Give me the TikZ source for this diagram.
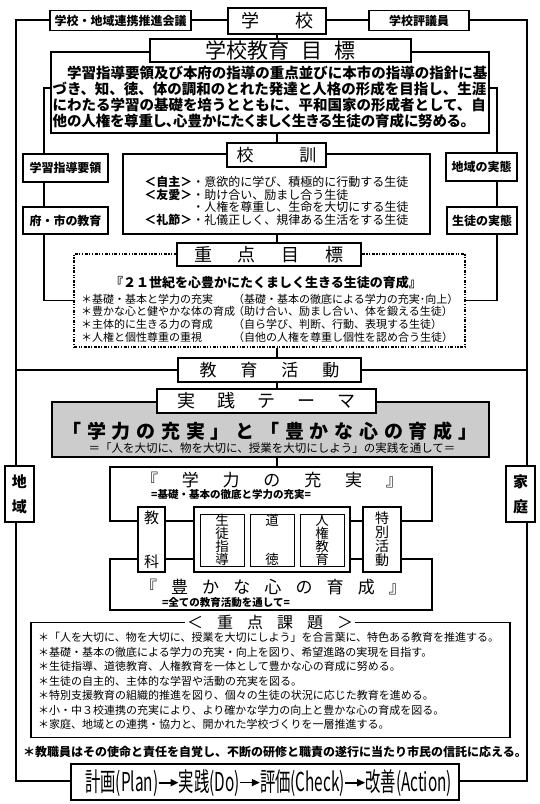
\documentclass[tikz,border=0pt]{standalone}
\usepackage{fontspec}
\setmainfont{Noto Sans CJK JP}
\newfontfamily\pdcafont[FakeStretch=0.59]{Noto Sans CJK JP}
\usetikzlibrary{arrows.meta,positioning,backgrounds}

\newcommand\fsz[1]{\fontsize{#1}{#1}\selectfont}
\newcommand\spread[2]{\makebox[#1][s]{#2}}
\newcommand\narrow{\addfontfeature{RawFeature=+palt}}

\tikzset{
  box/.style={draw, line width=1.3pt, fill=white, inner sep=0pt},
  heavybox/.style={draw, line width=2.4pt, fill=white, inner sep=0pt},
  dashbox/.style={draw, line width=1.8pt, fill=white, inner sep=0pt,
    dash pattern=on 3pt off 1.5pt on 1.2pt off 1.5pt on 1.2pt off 1.5pt},
  frame/.style={line width=2.2pt},
  link/.style={line width=1.2pt},
  spine/.style={line width=2pt},
  pdca step/.style={inner sep=0pt, font=\pdcafont\fsz{26}},
  pdca arrow/.style={line width=1.8pt, -{Triangle[length=8pt,width=7pt]}}
}

\begin{document}
\begin{tikzpicture}[x=1pt, y=-1pt]
  \useasboundingbox (0,0) rectangle (540,804);

  %--- Top row ---
  \node[box, minimum width=141pt, minimum height=20pt, font=\fsz{12}\bfseries] (council) at (120.5,20.5) {学校・地域連携推進会議};
  \node[heavybox, minimum width=98pt, minimum height=26pt, font=\fsz{18}] (school) at (277,21) {\spread{72pt}{学 校}};
  \node[box, minimum width=100pt, minimum height=20pt, font=\fsz{12}\bfseries] (board) at (419,20.5) {学校評議員};

  %--- School goal ---
  \node[box, minimum width=438pt, minimum height=81pt] (goaltext) at (270,92.5) {};
  \node[align=left, inner sep=0pt, font=\fontsize{14.5}{16}\selectfont\bfseries] (goallines) at (270,97) {%
    　学習指導要領及び本府の指導の重点並びに本市の指導の指針に基\\
    づき、知、徳、体の調和のとれた発達と人格の形成を目指し、生涯\\
    にわたる学習の基礎を培うとともに、平和国家の形成者として、自\\
    {\narrow 他の人権を尊重し、心豊かにたくましく生きる生徒の育成に努める。}};
  \node[heavybox, minimum width=261pt, minimum height=23pt, font=\fsz{21}] (goaltitle) at (280.5,50.5) {\spread{150pt}{学校教育 目 標}};

  %--- Side boxes ---
  \node[box, minimum width=85pt, minimum height=28pt, font=\fsz{12}\bfseries] (guideline) at (65.5,168) {学習指導要領};
  \node[box, minimum width=85pt, minimum height=27pt, font=\fsz{12}\bfseries] (cityedu) at (65.5,220.5) {府・市の教育};
  \node[box, minimum width=71pt, minimum height=28pt, font=\fsz{12}\bfseries] (localstate) at (481.5,167) {地域の実態};
  \node[box, minimum width=70pt, minimum height=27pt, font=\fsz{12}\bfseries] (pupilstate) at (482,220.5) {生徒の実態};

  %--- Motto ---
  \node[box, minimum width=307pt, minimum height=80pt] (motto) at (276.5,194) {};
  \node[align=left, inner sep=0pt, font=\fontsize{12}{12.7}\selectfont] (mottolines) at (276.5,201) {%
    {\bfseries ＜自主＞}・意欲的に学び、積極的に行動する生徒\\
    {\bfseries ＜友愛＞}・助け合い、励まし合う生徒\\
    \phantom{\bfseries ＜礼節＞}・人権を尊重し、生命を大切にする生徒\\
    {\bfseries ＜礼節＞}・礼儀正しく、規律ある生活をする生徒};
  \node[heavybox, minimum width=99pt, minimum height=24pt, font=\fsz{17}] (mottotitle) at (276.5,155) {\spread{80pt}{校 訓}};

  %--- Focus goals ---
  \node[dashbox, minimum width=391pt, minimum height=93pt] (focus) at (269.5,300.5) {};
  \node[inner sep=0pt, font=\fsz{13}\bfseries] (slogan) at (266,283) {『２１世紀を心豊かにたくましく生きる生徒の育成』};
  \node[anchor=west, align=left, inner sep=0pt, font=\fontsize{11}{12.7}\selectfont] (focusleft) at (81,318) {%
    ＊基礎・基本と学力の充実\\
    ＊豊かな心と健やかな体の育成\\
    ＊主体的に生きる力の育成\\
    ＊人権と個性尊重の重視};
  \node[anchor=west, align=left, inner sep=0pt, font=\fontsize{11}{12.7}\selectfont] (focusright) at (233,318) {%
    （基礎・基本の徹底による学力の充実･向上）\\
    （助け合い、励まし合い、体を鍛える生徒）\\
    （自ら学び、判断、行動、表現する生徒）\\
    （自他の人権を尊重し個性を認め合う生徒）};
  \node[heavybox, minimum width=184pt, minimum height=23pt, font=\fsz{18}] (focustitle) at (269,254.5) {\spread{150pt}{重 点 目 標}};

  %--- Activities and theme ---
  \node[heavybox, minimum width=183pt, minimum height=24pt, font=\fsz{17}] (activity) at (269.5,370) {\spread{140pt}{教 育 活 動}};
  \node[box, fill=gray!40, minimum width=437pt, minimum height=55pt] (theme) at (270.5,429.5) {};
  \node[inner sep=0pt, font=\fsz{19}\bfseries] (thememain) at (270,431) {\spread{415pt}{「 学 力 の 充 実 」 と 「 豊 か な 心 の 育 成 」}};
  \node[inner sep=0pt, font=\fsz{11.5}] (themesub) at (272,448) {＝「人を大切に、物を大切に、授業を大切にしよう」の実践を通して＝};
  \node[heavybox, minimum width=219pt, minimum height=24pt, font=\fsz{18}] (themetitle) at (266.5,401) {\spread{178pt}{実 践 テ ー マ}};

  %--- Ability and heart ---
  \node[heavybox, minimum width=322pt, minimum height=54pt] (ability) at (271,494) {};
  \node[inner sep=0pt, font=\fsz{17}] (abilitytitle) at (272,480) {\spread{262pt}{『 学 力 の 充 実 』}};
  \node[inner sep=0pt, font=\fsz{10.5}\bfseries] (abilitysub) at (231,495) {=基礎・基本の徹底と学力の充実=};
  \node[heavybox, minimum width=322pt, minimum height=51pt] (heart) at (271,584.5) {};
  \node[inner sep=0pt, font=\fsz{17}] (hearttitle) at (273,587) {\spread{266pt}{『 豊 か な 心 の 育 成 』}};
  \node[inner sep=0pt, font=\fsz{10.5}\bfseries] (heartsub) at (226,603) {=全ての教育活動を通して=};

  % middle row
  \node[heavybox, minimum width=27pt, minimum height=65pt, align=center, font=\fontsize{15}{15}\selectfont] (subject) at (151.5,539.5) {教\\[29pt]科};
  \node[heavybox, minimum width=156pt, minimum height=65pt] (moral) at (272,539.5) {};
  \node[box, line width=1pt, minimum width=44pt, minimum height=52pt, align=center, font=\fontsize{13.5}{13}\selectfont] (guidance) at (222,540) {生\\徒\\指\\導};
  \node[box, line width=1pt, minimum width=44pt, minimum height=52pt, align=center, font=\fontsize{13.5}{13}\selectfont] (ethics) at (272,540) {道\\[26pt]徳};
  \node[box, line width=1pt, minimum width=44pt, minimum height=52pt, align=center, font=\fontsize{13.5}{13}\selectfont] (rights) at (322,540) {人\\権\\教\\育};
  \node[heavybox, minimum width=38pt, minimum height=65pt, align=center, font=\fontsize{14}{14}\selectfont] (special) at (382,539.5) {特\\別\\活\\動};

  %--- Region and family ---
  \node[heavybox, minimum width=29pt, minimum height=56pt, align=center, font=\fontsize{15}{15}\selectfont\bfseries] (region) at (19.5,494) {地\\[10pt]域};
  \node[heavybox, minimum width=29pt, minimum height=56pt, align=center, font=\fontsize{15}{15}\selectfont\bfseries] (family) at (520.5,494) {家\\[10pt]庭};

  %--- Key issues ---
  \node[box, minimum width=479pt, minimum height=115pt] (issues) at (270.5,680) {};
  \node[anchor=west, align=left, inner sep=0pt, font=\fontsize{11}{14.5}\selectfont] (issuelines) at (38,681) {%
    ＊「人を大切に、物を大切に、授業を大切にしよう」を合言葉に、特色ある教育を推進する。\\
    ＊基礎・基本の徹底による学力の充実・向上を図り、希望進路の実現を目指す。\\
    ＊生徒指導、道徳教育、人権教育を一体として豊かな心の育成に努める。\\
    ＊生徒の自主的、主体的な学習や活動の充実を図る。\\
    ＊特別支援教育の組織的推進を図り、個々の生徒の状況に応じた教育を進める。\\
    ＊小・中３校連携の充実により、より確かな学力の向上と豊かな心の育成を図る。\\
    ＊家庭、地域との連携・協力と、開かれた学校づくりを一層推進する。};
  \node[fill=white, inner sep=2pt, font=\fsz{16}] (issuetitle) at (270,622) {\spread{166pt}{＜ 重 点 課 題 ＞}};
  \node[inner sep=0pt, font=\fsz{12}\bfseries] (staff) at (275,752) {＊教職員はその使命と責任を自覚し、不断の研修と職責の遂行に当たり市民の信託に応える。};

  %--- PDCA ---
  \node[heavybox, minimum width=388pt, minimum height=36pt] (pdca) at (265,782) {};
  \node[pdca step, anchor=base west] (plan) at (85,791) {計画(Plan)};
  \node[pdca step, base right=20pt of plan] (do) {実践(Do)};
  \node[pdca step, base right=20pt of do] (check) {評価(Check)};
  \node[pdca step, base right=20pt of check] (act) {改善(Action)};
  \foreach \a/\b in {plan/do, do/check, check/act}
    \draw[pdca arrow] (\a.east) -- (\a.east -| \b.west);

  %--- Frame and connectors behind the boxes ---
  \begin{scope}[on background layer]
    \draw[frame] (16,20) rectangle (527,781);
    \draw[frame] (16,370) -- (527,370);
    \draw[link] (focus.west) -| (44,88) -- (497,88) |- (focus.east);
    \foreach \a/\b in {school/goaltitle, goaltext/mottotitle, motto/focustitle, focus/activity, activity/themetitle, theme/ability}
      \draw[spine] (school.south |- \a.south) -- (school.south |- \b.north);
  \end{scope}
\end{tikzpicture}
\end{document}
